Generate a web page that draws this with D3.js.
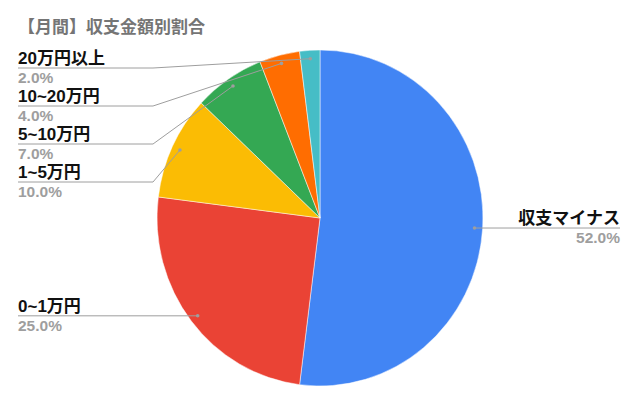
<!DOCTYPE html>
<html>
<head>
<meta charset="utf-8">
<script src="https://cdn.jsdelivr.net/npm/d3@7"></script>
<style>
  body { margin: 0; background: #fff; }
  text { font-family: "Liberation Sans", Arial, "Noto Sans CJK JP", sans-serif; }
</style>
</head>
<body>
<div id="container"></div>
<script>
  const categories = ['収支マイナス', '0~1万円', '1~5万円', '5~10万円', '10~20万円', '20万円以上'];
  const values = [52, 25, 10, 7, 4, 2];
  const colors = ['#4285f4', '#ea4335', '#fbbc04', '#34a853', '#ff6d01', '#46bdc6'];

  const width = 640;
  const height = 400;
  const cx = 320, cy = 218, r = 168;
  const sx = 0.97; // the picture is a touch narrower than tall

  const svg = d3.create('svg')
    .attr('width', width)
    .attr('height', height);

  svg.append('text')
    .attr('x', 18)
    .attr('y', 33)
    .attr('fill', '#757575')
    .attr('font-size', 17)
    .attr('font-weight', 'bold')
    .text('【月間】収支金額別割合');

  const total = d3.sum(values);
  const data = categories.map((c, i) => ({ name: c, value: values[i], color: colors[i] }));

  const pie = d3.pie().sort(null).value(d => d.value);
  const arcs = pie(data);
  const arc = d3.arc().innerRadius(0).outerRadius(r);
  const dotArc = d3.arc().innerRadius(r * 0.95).outerRadius(r * 0.95);

  const g = svg.append('g').attr('transform', `translate(${cx},${cy}) scale(${sx},1)`);

  g.selectAll('path')
    .data(arcs)
    .join('path')
    .attr('d', arc)
    .attr('fill', d => d.data.color)
    .attr('stroke', '#fff')
    .attr('stroke-width', 0.5);

  // label placement
  arcs.forEach(a => {
    const [x, y] = dotArc.centroid(a);
    a.dot = [cx + x * sx, cy + y];
    a.left = a.dot[0] < cx;
  });

  const leftSide = arcs.filter(a => a.left).sort((a, b) => a.dot[1] - b.dot[1]);
  let minY = 68;
  leftSide.forEach(a => {
    a.ly = Math.max(a.dot[1], minY);
    minY = a.ly + 38;
  });
  arcs.filter(a => !a.left).forEach(a => { a.ly = a.dot[1]; });

  const lab = svg.append('g');
  const fmt = d3.format('.1f');

  arcs.forEach(a => {
    const [dx, dy] = a.dot;
    let pts;
    if (a.left) {
      const bend = 153;
      pts = Math.abs(a.ly - dy) < 1 ? [[18, a.ly], [dx, dy]] : [[18, a.ly], [bend, a.ly], [dx, dy]];
    } else {
      pts = [[dx, dy], [620, a.ly]];
    }
    lab.append('path')
      .attr('d', d3.line()(pts))
      .attr('fill', 'none')
      .attr('stroke', '#9e9e9e')
      .attr('stroke-width', 1);
    lab.append('circle')
      .attr('cx', dx).attr('cy', dy).attr('r', 1.8)
      .attr('fill', '#9e9e9e');

    const tx = a.left ? 18 : 620;
    const anchor = a.left ? 'start' : 'end';
    lab.append('text')
      .attr('x', tx).attr('y', a.ly - 4)
      .attr('text-anchor', anchor)
      .attr('font-size', 17)
      .attr('font-weight', 'bold')
      .attr('fill', '#111')
      .text(a.data.name);
    lab.append('text')
      .attr('x', tx).attr('y', a.ly + 15)
      .attr('text-anchor', anchor)
      .attr('font-size', 15.5)
      .attr('font-weight', 'bold')
      .attr('fill', '#9e9e9e')
      .text(fmt(a.data.value / total * 100) + '%');
  });

  container.appendChild(svg.node());
</script>
</body>
</html>
